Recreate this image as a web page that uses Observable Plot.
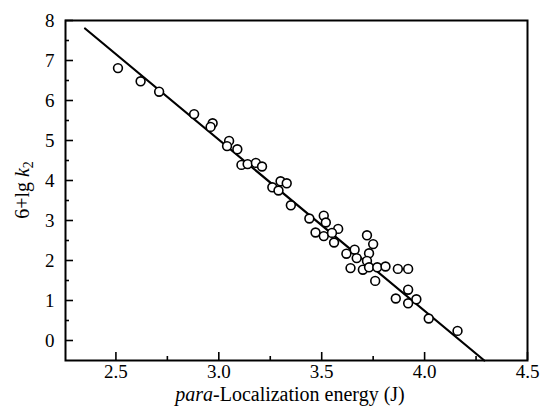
<!DOCTYPE html>
<html><head><meta charset="utf-8">
<script src="https://cdn.jsdelivr.net/npm/d3@7"></script>
<script src="https://cdn.jsdelivr.net/npm/@observablehq/plot@0.6"></script>
<style>
body{margin:0;background:#fff}
svg{display:block}
</style>
</head><body><div id="chart"></div>
<script>
// Measured points: para-localization energy (J) vs 6+lg k2
const energy = [2.51,2.62,2.71,2.88,2.97,2.96,3.05,3.04,3.09,3.11,3.14,3.18,3.21,3.26,3.30,3.33,3.29,3.35,3.44,3.51,3.52,3.47,3.51,3.58,3.55,3.56,3.72,3.75,3.66,3.62,3.67,3.73,3.72,3.64,3.70,3.73,3.77,3.81,3.76,3.87,3.92,3.92,3.86,3.96,3.92,4.02,4.16];
const lgk = [6.81,6.48,6.22,5.66,5.43,5.34,4.99,4.86,4.78,4.39,4.41,4.44,4.35,3.83,3.98,3.93,3.75,3.38,3.05,3.12,2.95,2.70,2.61,2.79,2.69,2.45,2.63,2.41,2.27,2.17,2.06,2.18,1.99,1.81,1.77,1.83,1.83,1.85,1.49,1.79,1.79,1.27,1.05,1.03,0.93,0.55,0.24];
// Fitted line end points
const fitX = [2.35, 4.29];
const fitY = [7.80, -0.5];
// Ticks
const xMajor = [2.5, 3.0, 3.5, 4.0, 4.5];
const xMinor = [2.75, 3.25, 3.75, 4.25];
const yMajor = [0, 1, 2, 3, 4, 5, 6, 7, 8];
const yMinor = [0.5, 1.5, 2.5, 3.5, 4.5, 5.5, 6.5, 7.5];
const xDomain = [2.255, 4.5];
const yDomain = [-0.5, 8];

const points = energy.map((x, i) => ({x, y: lgk[i]}));
const fit = fitX.map((x, i) => ({x, y: fitY[i]}));
const font = "Liberation Serif";

const chart = Plot.plot({
  width: 542, height: 408,
  marginLeft: 65, marginRight: 15, marginTop: 20, marginBottom: 48,
  style: {background: "#fff", color: "#000"},
  x: {domain: xDomain},
  y: {domain: yDomain},
  marks: [
    Plot.axisX({ticks: xMajor, tickSize: 0, tickPadding: 4, tickFormat: d3.format(".1f"), label: null, fontSize: 19}),
    Plot.axisY({ticks: yMajor, tickSize: 0, tickPadding: 11, tickFormat: d3.format("d"), label: null, fontSize: 19}),
    Plot.ruleX(xMajor, {x: d => d, y1: yDomain[0], y2: yDomain[0], insetTop: -8, stroke: "#000", strokeWidth: 1.6}),
    Plot.ruleX(xMinor, {x: d => d, y1: yDomain[0], y2: yDomain[0], insetTop: -4, stroke: "#000", strokeWidth: 1.6}),
    Plot.ruleY(yMajor, {y: d => d, x1: xDomain[0], x2: xDomain[0], insetRight: -8, stroke: "#000", strokeWidth: 1.6}),
    Plot.ruleY(yMinor, {y: d => d, x1: xDomain[0], x2: xDomain[0], insetRight: -4, stroke: "#000", strokeWidth: 1.6}),
    Plot.line(fit, {x: "x", y: "y", stroke: "#000", strokeWidth: 2.2}),
    Plot.dot(points, {x: "x", y: "y", r: 4.4, stroke: "#000", strokeWidth: 1.6, fill: "#fff"}),
    Plot.frame({stroke: "#000", strokeWidth: 2})
  ]
});

const svg = d3.select(chart);
// y-axis title
const yt = svg.append("text")
  .attr("transform", "translate(29,190) rotate(-90)")
  .attr("text-anchor", "middle")
  .attr("font-size", 20).attr("fill", "#000");
yt.append("tspan").text("6+lg ");
yt.append("tspan").attr("font-style", "italic").text("k");
yt.append("tspan").attr("font-size", 14).attr("dy", 4).text("2");
// x-axis title
const xt = svg.append("text")
  .attr("x", 290).attr("y", 401)
  .attr("text-anchor", "middle")
  .attr("font-size", 20).attr("fill", "#000");
xt.append("tspan").attr("font-style", "italic").text("para");
xt.append("tspan").text("-Localization energy (J)");

chart.removeAttribute("class");
chart.setAttribute("font-family", font);
chart.style.setProperty("font-family", "'Liberation Serif', serif", "important");
svg.selectAll("text, tspan, g").each(function() {
  this.setAttribute("font-family", font);
  this.style.setProperty("font-family", "'Liberation Serif', serif", "important");
});

document.getElementById("chart").appendChild(chart);
</script>
</body></html>
